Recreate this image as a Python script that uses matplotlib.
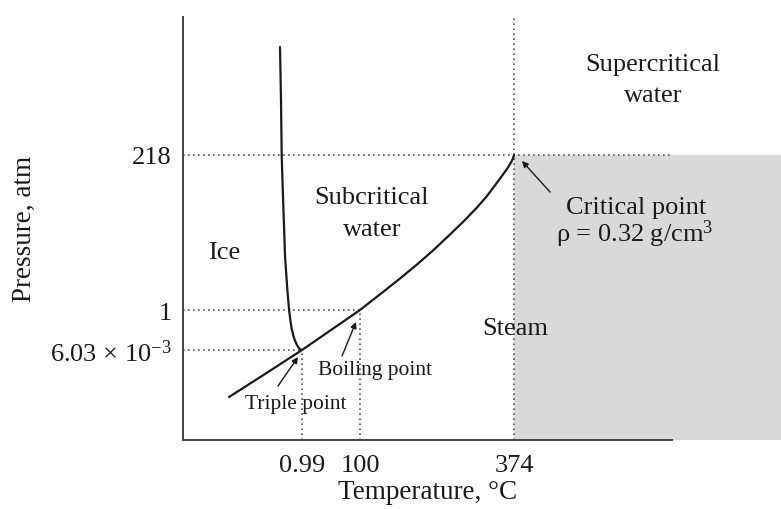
import matplotlib
matplotlib.use("Agg")
import matplotlib.pyplot as plt
from matplotlib.patches import FancyArrowPatch

plt.rcParams['font.family'] = ['Liberation Serif', 'DejaVu Serif']
plt.rcParams['mathtext.fontset'] = 'custom'
plt.rcParams['mathtext.rm'] = 'Liberation Serif'
plt.rcParams['mathtext.it'] = 'Liberation Serif:italic'

# ---- schematic data (diagram units) ----
triple = (119, 90)
boiling = (177, 130)
critical = (331, 285)

temp_ticks = [triple[0], boiling[0], critical[0]]
temp_labels = ['0.99', '100', '374']
pres_ticks = [triple[1], boiling[1], critical[1]]
pres_labels = ['6.03 × 10$^{-3}$', '1', '218']

# melting (solid-liquid) curve
melt_x = [97, 98, 98.7, 99.5, 100.3, 101.2, 102, 103.2, 104.3, 105.3, 106.3,
          107.5, 108.7, 110.3, 112, 113.7, 115.3, 117, 119]
melt_y = [393, 340, 284, 259, 234, 209, 184, 167, 151, 139, 128,
          119, 111, 104.5, 99.3, 95.5, 92.7, 91, 90]

# vaporisation curve
vap_x = [46, 82, 119, 148, 177, 200, 217, 234, 250, 267, 281, 294, 304, 313,
         320, 325, 328, 330, 331]
vap_y = [43, 66, 90, 110, 130, 148, 161.5, 175.5, 189.5, 205.5, 219, 232.5,
         244, 256, 265.5, 272.5, 277.5, 281.5, 285]

x_max, y_max = 489, 423

fig = plt.figure(figsize=(7.81, 5.10), dpi=100)
ax = fig.add_axes([183/781, 69/510, 489/781, 423/510])
ax.set_xlim(0, x_max)
ax.set_ylim(0, y_max)

# gray steam region beyond critical temperature, extends to figure edge
fig_right = ax.transData.inverted().transform(fig.transFigure.transform((1, 0)))[0]
ax.fill_between([critical[0], fig_right], 0, critical[1], color='#d9d9d9',
                lw=0, clip_on=False, zorder=0)

dot_kw = dict(color='#555555', lw=1.2, ls=(0, (1, 2)), zorder=1)
ax.axhline(critical[1], **dot_kw)
ax.axvline(critical[0], **dot_kw)
ax.plot([0, triple[0]], [triple[1]] * 2, **dot_kw)
ax.plot([triple[0]] * 2, [0, triple[1]], **dot_kw)
ax.plot([0, boiling[0]], [boiling[1]] * 2, **dot_kw)
ax.plot([boiling[0]] * 2, [0, boiling[1]], **dot_kw)

ax.plot(melt_x, melt_y, color='#1a1a1a', lw=1.6, solid_joinstyle='round',
        solid_capstyle='round', zorder=3)
ax.plot(vap_x, vap_y, color='#1a1a1a', lw=1.6, solid_joinstyle='round',
        solid_capstyle='round', zorder=3)

for s in ['top', 'right']:
    ax.spines[s].set_visible(False)
for s in ['left', 'bottom']:
    ax.spines[s].set_color('#444444')
    ax.spines[s].set_linewidth(1.4)

ax.set_xticks(temp_ticks, temp_labels)
ax.set_yticks(pres_ticks, pres_labels)
ax.tick_params(axis='both', length=0, labelsize=19, colors='#1a1a1a')
ax.tick_params(axis='y', pad=8)
ax.tick_params(axis='x', pad=10)

fig.text(428/781, 1 - 493/510, 'Temperature, °C', fontsize=19.5,
         ha='center', va='center', color='#1a1a1a')
fig.text(24/781, 1 - 229/510, 'Pressure, atm', fontsize=19.5, rotation=90,
         ha='center', va='center', color='#1a1a1a')

def px(xp, yp):
    return ax.transData.inverted().transform(
        fig.transFigure.transform((xp / 781, 1 - yp / 510)))

big = 19
small = 15.5
col = '#1a1a1a'

def label(xp, yp, s, size=big):
    ax.text(*px(xp, yp), s, fontsize=size, ha='center', va='baseline',
            color=col, clip_on=False)

label(653, 71, 'Supercritical')
label(653, 102, 'water')
label(372, 204, 'Subcritical')
label(372, 236, 'water')
label(636, 214, 'Critical point')
label(635, 242, r'ρ = 0.32 g/cm$^3$')
label(224, 259, 'Ice')
label(515, 335, 'Steam')
label(375, 375, 'Boiling point', small)
label(296, 409, 'Triple point', small)

def arrow(p0, p1):
    a = FancyArrowPatch(px(*p0), px(*p1), arrowstyle='-|>', mutation_scale=9,
                        color='#1a1a1a', lw=1.0, shrinkA=0, shrinkB=0,
                        clip_on=False, zorder=4)
    ax.add_patch(a)

arrow((550, 193), (522, 162))
arrow((342, 357), (356, 323))
arrow((278, 387), (298, 358))

fig.savefig('out.png', dpi=100)
